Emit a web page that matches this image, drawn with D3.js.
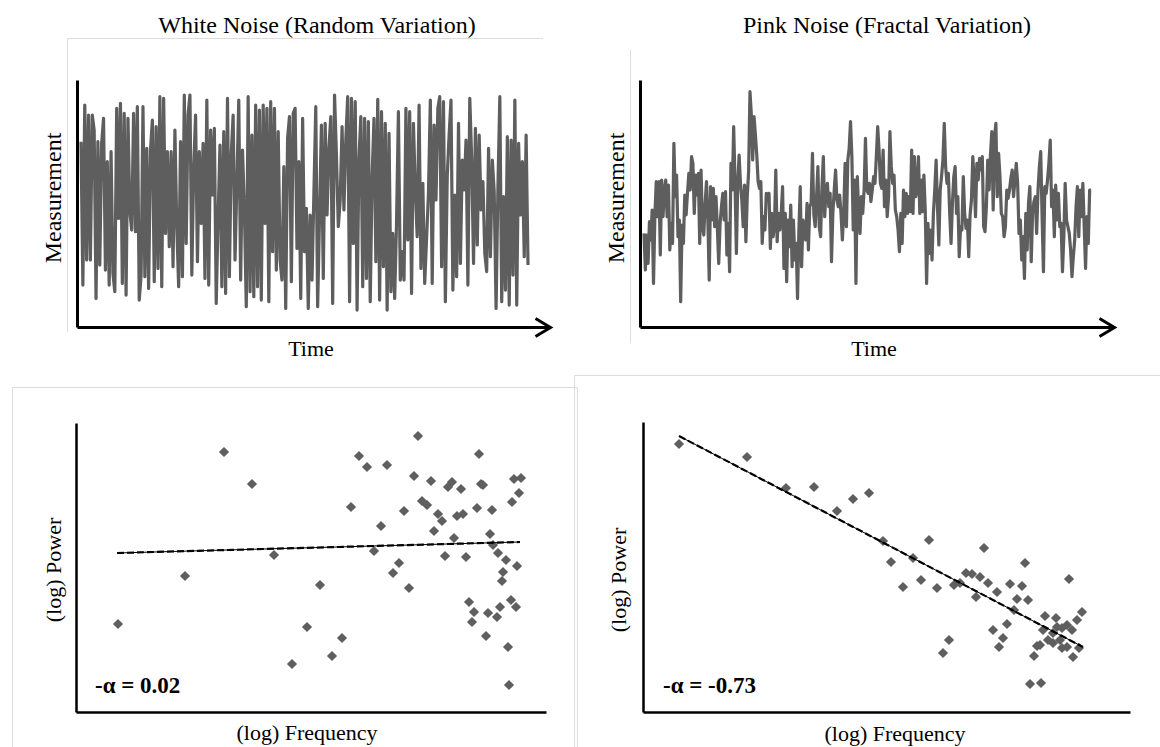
<!DOCTYPE html>
<html>
<head>
<meta charset="utf-8">
<script src="https://d3js.org/d3.v7.min.js"></script>
<style>
  body { margin: 0; background: #fff; }
</style>
</head>
<body>
<div class="vis"></div>
<script>
  // time series (arbitrary measurement units, higher = up)
  var whiteNoise = [
    555,125,665,200,635,200,635,590,85,555, 185,550,625,170,495,125,525,160,105,655,
    325,670,130,640,95,625,345,290,640,285, 660,80,155,660,150,535,115,530,620,135,
    600,175,690,120,685,280,525,240,525,180, 590,300,120,555,150,695,250,635,695,155,
    470,635,195,525,310,550,145,680,125,590, 395,595,70,325,545,120,585,100,685,150,
    515,635,200,430,680,140,530,350,60,690, 105,575,90,665,120,650,80,665,310,655,
    75,675,225,655,170,585,200,140,480,55, 565,630,135,640,655,235,
    495,85,625,225,355,55,335,140,400,660, 60,330,605,145,610,335,535,630,70,695,
    515,300,380,600,350,560,690,75,685,250, 675,50,505,630,120,625,145,615,75,450,
    625,195,682,80,645,180,610,50,580,105, 280,85,310,645,140,225,140,655,260,645,
    100,610,410,270,665,175,430,130,265,400, 680,130,605,380,655,690,180,675,75,450,
    575,680,110,395,150,610,190,500,410,560, 125,685,505,190,595,245,575,350,435,220,
    165,535,210,500,405,55,420,690,75,390, 110,570,65,560,155,680,65,550,335,495,
    210,575,185
  ];
  var pinkNoise = [
    280,170,275,190,315,260,350,130,330,435, 330,435,215,440,330,410,440,330,425,230,
    310,250,550,390,455,270,320,75,305,250, 395,335,400,460,410,510,490,340,455,395,
    460,250,470,300,275,370,435,320,140,420, 320,415,300,390,295,190,310,360,400,320,
    405,215,310,165,490,410,600,430,220,430, 515,430,380,300,425,255,390,465,705,635,
    500,630,575,515,435,415,435,250,330,290, 400,380,400,235,340,270,300,470,255,340,
    290,340,420,175,340,135,320,240,365,180, 320,200,250,85,290,420,180,320,290,260,
    370,230,360,370,520,335,300,390,480,300, 270,420,510,330,410,430,360,400,195,340,
    410,470,380,360,395,340,260,340,490,300, 500,535,615,510,290,440,130,450,345,280,
    390,340,410,565,410,
    400,430,375,410,450,430,510,600,530,430, 415,530,360,440,330,390,585,480,430,455,
    350,330,290,225,340,250,410,330,400,340, 390,345,530,340,510,390,410,510,340,440,
    345,455,350,130,310,220,290,200,340,410, 500,360,245,410,450,500,610,480,430,460,
    340,250,370,450,480,340,390,210,300,290, 450,340,295,320,210,335,380,510,440,330,
    490,440,505,470,510,300,285,360,500,410, 515,585,350,570,610,390,520,450,340,330,
    270,300,410,385,410,445,470,390,440,490, 430,280,320,200,270,145,340,230,370,420,
    195,340,375,390,280,410,480,525,330,165, 420,400,440,490,560,360,410,270,425,320,
    400,300,310,165,270,430,320,300,280,230, 150,210,260,360,420,270,410,330,430,300,
    175,330,250,410,410
  ];

  // power spectra (log units, offsets from axis origin)
  var whiteFreq = [148,176,198,109,42,231,216,244,342,283,291,311,403,338,355,376,372,385,405,407,
    438,445,443,436,275,346,351,328,401,416,362,366,381,387,305,358,378,414,417,422,
    298,369,390,430,441,323,317,427,426,333,393,398,396,412,421,424,435,440,410,432,433,266,256];
  var whitePower = [260,228,157,136,88,85,48,127,276,256,245,247,258,236,231,230,225,223,228,227,
    233,234,219,210,205,211,207,201,204,202,198,191,196,198,186,181,174,178,167,159,
    161,156,155,152,146,149,139,140,131,124,110,100,90,99,95,105,112,105,76,65,27,74,56];
  var pinkFreq = [36,104,143,171,194,210,226,240,286,248,270,341,382,260,278,294,311,317,323,329,
    337,345,354,333,367,379,374,385,426,371,402,413,439,434,364,350,424,419,429,400,
    360,356,405,410,417,424,397,419,436,394,430,306,300,391,387,398,410,414];
  var pinkPower = [268,255,224,225,201,213,219,171,172,150,154,164,149,125,132,124,127,129,139,138,
    135,129,120,115,128,126,113,112,133,102,96,94,100,92,88,82,87,84,82,82,
    74,65,72,69,72,65,67,64,64,66,55,72,59,56,28,29,79,85];

  // fitted trend lines (end points)
  var whiteFitFreq = [41, 444], whiteFitPower = [159, 170];
  var pinkFitFreq = [36, 440], pinkFitPower = [276, 65];

  var titles = ["White Noise (Random Variation)", "Pink Noise (Fractal Variation)"];
  var alphaLabels = ["-\u03b1 = 0.02", "-\u03b1 = -0.73"];

  var W = 1160, H = 747;
  var FONT = '"Liberation Serif", "Times New Roman", "DejaVu Serif", serif';
  var svg = d3.select('.vis').append('svg')
    .attr('width', W).attr('height', H)
    .attr('viewBox', [0, 0, W, H])
    .attr('font-family', FONT)
    .style('font-family', FONT);

  svg.append('defs').append('marker')
    .attr('id', 'arrow')
    .attr('markerUnits', 'userSpaceOnUse')
    .attr('viewBox', '-18 -12 22 24')
    .attr('refX', 0).attr('refY', 0)
    .attr('markerWidth', 22).attr('markerHeight', 24)
    .attr('orient', 'auto')
    .append('path')
    .attr('d', 'M-15,-9L0,0L-15,9')
    .attr('fill', 'none')
    .attr('stroke', '#000')
    .attr('stroke-width', 3);

  // faint panel frames
  var frame = svg.append('g').attr('stroke', '#dcdcdc').attr('stroke-width', 1).attr('fill', 'none');
  frame.append('path').attr('d', 'M67.5,332V38.5H543');
  frame.append('path').attr('d', 'M630.5,343V50');
  frame.append('path').attr('d', 'M12.5,747V387.5H577.5V747');
  frame.append('path').attr('d', 'M574.5,747V375.5H1160');

  function styleAxis(g, w) {
    g.select('.domain').attr('stroke', '#000').attr('stroke-width', w);
    g.selectAll('.tick').remove();
  }

  function addText(x, y, str, opts) {
    opts = opts || {};
    var t = svg.append('text')
      .attr('font-family', FONT)
      .attr('font-size', opts.size || 22)
      .attr('fill', '#000')
      .attr('text-anchor', opts.anchor || 'middle')
      .text(str);
    if (opts.rotate) t.attr('transform', 'translate(' + x + ',' + y + ') rotate(-90)');
    else t.attr('x', x).attr('y', y);
    if (opts.bold) t.attr('font-weight', 'bold');
    return t;
  }

  // ---- time series panels ----
  function timePanel(values, x0, x1, ax0, ax1, axisTop, title, titleX, labelX, timeX) {
    var x = d3.scaleLinear().domain([0, values.length - 1]).range([x0, x1]);
    var y = d3.scaleLinear().domain([0, 740]).range([326.7, 80]);
    var xAxisScale = d3.scaleLinear().domain([0, 1]).range([ax0, ax1]);
    var yAxisScale = d3.scaleLinear().domain([0, 1]).range([327, axisTop]);

    var line = d3.line()
      .x(function (d, i) { return x(i); })
      .y(function (d) { return y(d); });

    svg.append('path')
      .datum(values)
      .attr('d', line)
      .attr('fill', 'none')
      .attr('stroke', '#5e5e5e')
      .attr('stroke-width', 3.2)
      .attr('stroke-linejoin', 'round');

    svg.append('g')
      .attr('transform', 'translate(0,327)')
      .call(d3.axisBottom(xAxisScale).ticks(0).tickSizeOuter(0))
      .call(styleAxis, 3)
      .select('.domain').attr('marker-end', 'url(#arrow)');

    svg.append('g')
      .attr('transform', 'translate(' + ax0 + ',0)')
      .call(d3.axisLeft(yAxisScale).ticks(0).tickSizeOuter(0))
      .call(styleAxis, 3);

    addText(titleX, 33, title, { size: 24 });
    addText(labelX, 198, 'Measurement', { rotate: true, size: 24 });
    addText(timeX, 356, 'Time');
  }

  timePanel(whiteNoise, 81, 528, 77, 550, 80, titles[0], 317, 61, 311);
  timePanel(pinkNoise, 644, 1091, 640, 1114, 80, titles[1], 887, 624, 874);

  // ---- spectrum panels ----
  function spectrumPanel(fx, py, fitX, fitY, ax0, ax1, axisTop, xMax, label, labelX, powerX, powerY, freqX, freqY) {
    var x = d3.scaleLinear().domain([0, xMax]).range([ax0, ax1]);
    var y = d3.scaleLinear().domain([0, 290]).range([712, 422]);

    svg.append('g')
      .attr('transform', 'translate(0,712)')
      .call(d3.axisBottom(x).ticks(0).tickSizeOuter(0))
      .call(styleAxis, 2.5);
    svg.append('g')
      .attr('transform', 'translate(' + ax0 + ',0)')
      .call(d3.axisLeft(d3.scaleLinear().domain([0, 1]).range([712, axisTop])).ticks(0).tickSizeOuter(0))
      .call(styleAxis, 2.5);

    var pts = fx.map(function (d, i) { return [d, py[i]]; });
    var diamond = d3.symbol().type(d3.symbolSquare).size(52);
    svg.append('g').selectAll('path')
      .data(pts)
      .join('path')
      .attr('d', diamond)
      .attr('transform', function (d) { return 'translate(' + x(d[0]) + ',' + y(d[1]) + ') rotate(45)'; })
      .attr('fill', '#5f5f5f');

    var fit = d3.line().x(function (d) { return x(d[0]); }).y(function (d) { return y(d[1]); });
    var fitPts = fitX.map(function (d, i) { return [d, fitY[i]]; });
    svg.append('path').datum(fitPts).attr('d', fit)
      .attr('stroke', '#000').attr('stroke-width', 1).attr('fill', 'none');
    svg.append('path').datum(fitPts).attr('d', fit)
      .attr('stroke', '#000').attr('stroke-width', 2.2).attr('fill', 'none')
      .attr('stroke-dasharray', '7,3');

    addText(labelX, 693, label, { anchor: 'start', bold: true, size: 23 });
    addText(powerX, powerY, '(log) Power', { rotate: true });
    addText(freqX, freqY, '(log) Frequency');
  }

  spectrumPanel(whiteFreq, whitePower, whiteFitFreq, whiteFitPower, 76, 546, 423, 470,
    alphaLabels[0], 95, 61, 570, 307, 740);
  spectrumPanel(pinkFreq, pinkPower, pinkFitFreq, pinkFitPower, 643, 1130, 422, 487,
    alphaLabels[1], 663, 626, 580, 895, 741);
</script>
</body>
</html>
